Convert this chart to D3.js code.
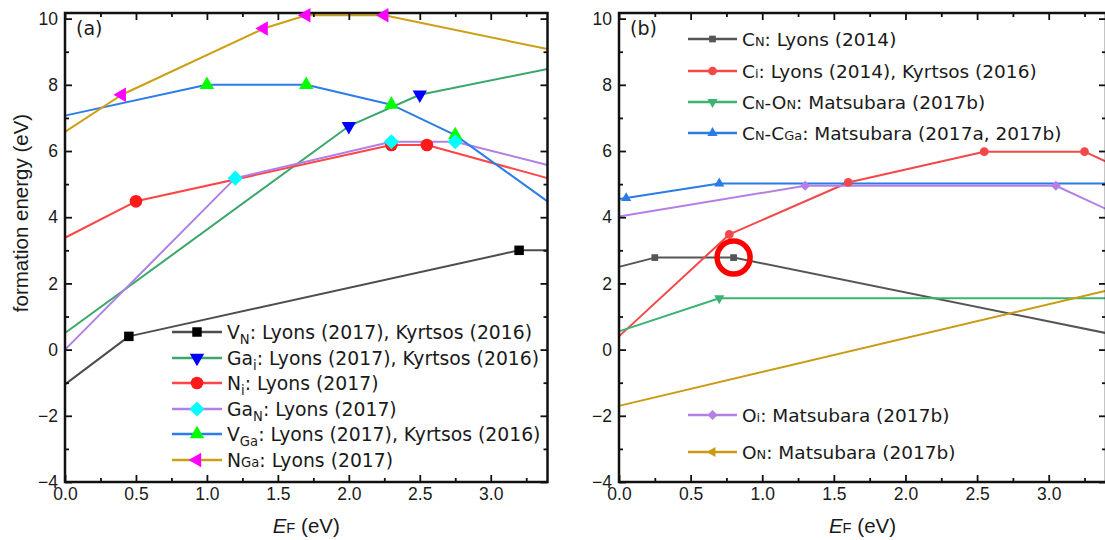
<!DOCTYPE html>
<html lang="en">

<head>
  <meta charset="UTF-8">
  <script src="https://d3js.org/d3.v7.min.js"></script>
  <style>
    html, body {
      margin: 0px;
      padding: 0px;
      background-color: white;
    }

    svg {
      display: block;
    }

    .axis-text {
      font-family: "Liberation Sans", Arial, sans-serif;
      font-size: 17.5px;
      fill: #1a1a1a;
    }

    .legend-text {
      font-family: "DejaVu Sans", sans-serif;
      font-size: 18px;
      fill: #1a1a1a;
    }
  </style>
</head>

<body>
  <svg id="chart" width="1105" height="540"></svg>

  <script>
    // ticks shared by both panels
    const xTickVals = [0, 0.5, 1.0, 1.5, 2.0, 2.5, 3.0];
    const xMinorVals = [0.25, 0.75, 1.25, 1.75, 2.25, 2.75, 3.25];
    const yTickVals = [-4, -2, 0, 2, 4, 6, 8, 10];
    const yMinorVals = [-3, -1, 1, 3, 5, 7, 9];

    // panel (a): native defects, E_F (eV) vs formation energy (eV)
    const vnE = [0, 0.45, 3.2, 3.4];
    const vnF = [-1.05, 0.4, 3.0, 3.0];
    const vnMarks = [1, 2];
    const gaiE = [0, 2.0, 2.5, 3.4];
    const gaiF = [0.5, 6.75, 7.7, 8.48];
    const gaiMarks = [1, 2];
    const niE = [0, 0.5, 2.3, 2.55, 3.4];
    const niF = [3.38, 4.48, 6.18, 6.18, 5.18];
    const niMarks = [1, 2, 3];
    const ganE = [0, 1.2, 2.3, 2.75, 3.4];
    const ganF = [0, 5.18, 6.28, 6.28, 5.58];
    const ganMarks = [1, 2, 3];
    const vgaE = [0, 1.0, 1.7, 2.3, 2.75, 3.4];
    const vgaF = [7.07, 8.0, 8.0, 7.4, 6.48, 4.48];
    const vgaMarks = [1, 2, 3, 4];
    const ngaE = [0, 0.4, 1.4, 1.7, 2.25, 3.4];
    const ngaF = [6.58, 7.7, 9.7, 10.1, 10.1, 9.08];
    const ngaMarks = [1, 2, 3, 4];

    const legendA = [
      "V_{N}: Lyons (2017), Kyrtsos (2016)",
      "Ga_{i}: Lyons (2017), Kyrtsos (2016)",
      "N_{i}: Lyons (2017)",
      "Ga_{N}: Lyons (2017)",
      "V_{Ga}: Lyons (2017), Kyrtsos (2016)",
      "N~{Ga}: Lyons (2017)"
    ];

    // panel (b): carbon and oxygen related defects
    const cnE = [0, 0.25, 0.8, 3.4];
    const cnF = [2.5, 2.78, 2.78, 0.5];
    const cnMarks = [1, 2];
    const ciE = [0, 0.77, 1.6, 2.55, 3.25, 3.4];
    const ciF = [0.4, 3.48, 5.05, 5.98, 5.98, 5.68];
    const ciMarks = [1, 2, 3, 4];
    const cnonE = [0, 0.7, 3.4];
    const cnonF = [0.55, 1.55, 1.55];
    const cnonMarks = [1];
    const cncgaE = [0, 0.05, 0.7, 3.4];
    const cncgaF = [4.55, 4.58, 5.02, 5.02];
    const cncgaMarks = [1, 2];
    const oiE = [0, 1.3, 3.05, 3.4];
    const oiF = [4.02, 4.95, 4.95, 4.25];
    const oiMarks = [1, 2];
    const onE = [0, 3.4];
    const onF = [-1.7, 1.78];
    const onMarks = [];

    const legendB = [
      "C~{N}: Lyons (2014)",
      "C~{i}: Lyons (2014), Kyrtsos (2016)",
      "C~{N}-O~{N}: Matsubara (2017b)",
      "C~{N}-C~{Ga}: Matsubara (2017a, 2017b)",
      "O~{i}: Matsubara (2017b)",
      "O~{N}: Matsubara (2017b)"
    ];

    // highlighted point in (b)
    const ringE = 0.8;
    const ringF = 2.78;

    const svg = d3.select("#chart");
    const plotTop = 13, plotBottom = 482;

    // write text with _{sub} (lowered) and ~{small} (small, on baseline)
    function richText(g, x, y, str, cls) {
      const t = g.append("text").attr("class", cls).attr("x", x).attr("y", y);
      const parts = str.split(/([_~]\{[^}]*\})/).filter(s => s.length);
      let shifted = false;
      parts.forEach(p => {
        if (p[0] === "_" || p[0] === "~") {
          const ts = t.append("tspan").text(p.slice(2, -1)).attr("font-size", "70%");
          if (p[0] === "_") { ts.attr("dy", 5); shifted = true; }
        } else {
          const ts = t.append("tspan").text(p);
          if (shifted) { ts.attr("dy", -5); shifted = false; }
        }
      });
      return t;
    }

    const symbols = {
      square: [d3.symbolSquare, 0],
      circle: [d3.symbolCircle, 0],
      up: [d3.symbolTriangle, 0],
      down: [d3.symbolTriangle, 180],
      left: [d3.symbolTriangle, -90],
      diamond: [d3.symbolSquare, 45]
    };

    function marker(g, cx, cy, shape, size, color) {
      const [type, rot] = symbols[shape];
      g.append("path")
        .attr("d", d3.symbol().type(type).size(size)())
        .attr("transform", `translate(${cx},${cy}) rotate(${rot})`)
        .attr("fill", color);
    }

    function drawPanel(p) {
      const x = d3.scaleLinear().domain([0, 3.4]).range([p.left, p.right]);
      const y = d3.scaleLinear().domain([-4, 10.17]).range([plotBottom, plotTop]);
      const g = svg.append("g");

      const line = d3.line().x(d => x(d[0])).y(d => y(d[1]));
      p.series.forEach(s => {
        g.append("path")
          .datum(d3.zip(s.e, s.f))
          .attr("d", line)
          .attr("fill", "none")
          .attr("stroke", s.color)
          .attr("stroke-width", 2)
          .attr("stroke-linejoin", "round");
      });

      // axes with inward ticks
      const styleAxis = sel => {
        sel.select(".domain").remove();
        sel.selectAll(".tick line").attr("stroke", "#111").attr("stroke-width", 1.8);
        sel.selectAll(".tick text").attr("class", "axis-text").attr("fill", null);
        sel.attr("font-size", null).attr("font-family", null);
      };
      g.append("g").attr("transform", `translate(0,${plotBottom})`)
        .call(d3.axisBottom(x).tickValues(xTickVals).tickSize(-7).tickPadding(6).tickFormat(d3.format(".1f")))
        .call(styleAxis);
      g.append("g").attr("transform", `translate(0,${plotBottom})`)
        .call(d3.axisBottom(x).tickValues(xMinorVals).tickSize(-4).tickFormat(""))
        .call(styleAxis);
      g.append("g").attr("transform", `translate(0,${plotTop})`)
        .call(d3.axisTop(x).tickValues(xTickVals).tickSize(-7).tickFormat(""))
        .call(styleAxis);
      g.append("g").attr("transform", `translate(0,${plotTop})`)
        .call(d3.axisTop(x).tickValues(xMinorVals).tickSize(-4).tickFormat(""))
        .call(styleAxis);
      g.append("g").attr("transform", `translate(${p.left},0)`)
        .call(d3.axisLeft(y).tickValues(yTickVals).tickSize(-7).tickPadding(7).tickFormat(d3.format("d")))
        .call(styleAxis);
      g.append("g").attr("transform", `translate(${p.left},0)`)
        .call(d3.axisLeft(y).tickValues(yMinorVals).tickSize(-4).tickFormat(""))
        .call(styleAxis);
      g.append("g").attr("transform", `translate(${p.right},0)`)
        .call(d3.axisRight(y).tickValues(yTickVals).tickSize(-7).tickFormat(""))
        .call(styleAxis);
      g.append("g").attr("transform", `translate(${p.right},0)`)
        .call(d3.axisRight(y).tickValues(yMinorVals).tickSize(-4).tickFormat(""))
        .call(styleAxis);

      g.append("rect")
        .attr("x", p.left).attr("y", plotTop)
        .attr("width", p.right - p.left).attr("height", plotBottom - plotTop)
        .attr("fill", "none").attr("stroke", "#111").attr("stroke-width", 2.5);

      // markers
      p.markerOrder.forEach(i => {
        const s = p.series[i];
        s.marks.forEach(k => marker(g, x(s.e[k]), y(s.f[k]), s.shape, s.size, s.markColor));
      });

      // legend
      p.series.forEach((s, i) => {
        const ly = p.legendY[i];
        g.append("line")
          .attr("x1", p.legendX).attr("x2", p.legendX + p.legendLen)
          .attr("y1", ly).attr("y2", ly)
          .attr("stroke", s.color).attr("stroke-width", 2.5);
        marker(g, p.legendX + p.legendLen / 2, ly, s.shape, s.size, s.markColor);
        richText(g, p.legendX + p.legendLen + 5, ly + 6.5, p.labels[i], "legend-text")
          .style("font-size", p.legendFont + "px");
      });

      // panel label
      g.append("text").attr("class", "legend-text")
        .attr("x", p.left + 11).attr("y", 35).style("font-size", "19px").text(p.tag);

      // x title: E_F (eV)
      const xt = g.append("text").attr("class", "axis-text")
        .attr("x", (p.left + p.right) / 2).attr("y", 533)
        .attr("text-anchor", "middle").style("font-size", "20.5px");
      xt.append("tspan").attr("font-style", "italic").text("E");
      xt.append("tspan").attr("font-size", "72%").text("F");
      xt.append("tspan").text(" (eV)");

      return { g, x, y };
    }

    const mk = (e, f, marks, color, markColor, shape, size) => ({ e, f, marks, color, markColor, shape, size });

    drawPanel({
      left: 65, right: 547.5, tag: "(a)",
      series: [
        mk(vnE, vnF, vnMarks, "#4d4d4d", "#000000", "square", 90),
        mk(gaiE, gaiF, gaiMarks, "#3aa86b", "#0000ff", "down", 90),
        mk(niE, niF, niMarks, "#ff4545", "#ff1a1a", "circle", 125),
        mk(ganE, ganF, ganMarks, "#b07fe8", "#00ffff", "diamond", 115),
        mk(vgaE, vgaF, vgaMarks, "#2b7de9", "#00ff00", "up", 90),
        mk(ngaE, ngaF, ngaMarks, "#cc9f14", "#ff00ff", "left", 90)
      ],
      markerOrder: [0, 1, 2, 4, 5, 3],
      labels: legendA,
      legendX: 172, legendLen: 50,
      legendY: [332, 358, 383, 409, 434, 460],
      legendFont: 18.8
    });

    const pb = drawPanel({
      left: 619, right: 1106, tag: "(b)",
      series: [
        mk(cnE, cnF, cnMarks, "#555555", "#555555", "square", 45),
        mk(ciE, ciF, ciMarks, "#f24848", "#f24848", "circle", 60),
        mk(cnonE, cnonF, cnonMarks, "#3cb371", "#3cb371", "down", 45),
        mk(cncgaE, cncgaF, cncgaMarks, "#2b7be6", "#2b7be6", "up", 45),
        mk(oiE, oiF, oiMarks, "#b47fe6", "#b47fe6", "diamond", 50),
        mk(onE, onF, onMarks, "#c99a12", "#c99a12", "left", 45)
      ],
      markerOrder: [0, 1, 2, 3, 4, 5],
      labels: legendB,
      legendX: 688, legendLen: 49,
      legendY: [39, 71, 102, 133, 415, 452],
      legendFont: 18.5
    });

    // red ring around the highlighted C_N level
    pb.g.append("circle")
      .attr("cx", pb.x(ringE)).attr("cy", pb.y(ringF)).attr("r", 16.5)
      .attr("fill", "none").attr("stroke", "#ff0000").attr("stroke-width", 5.5);

    // y title
    svg.append("text").attr("class", "axis-text")
      .attr("transform", "translate(28,213) rotate(-90)")
      .attr("text-anchor", "middle").style("font-size", "20.5px")
      .text("formation energy (eV)");
  </script>
</body>

</html>
